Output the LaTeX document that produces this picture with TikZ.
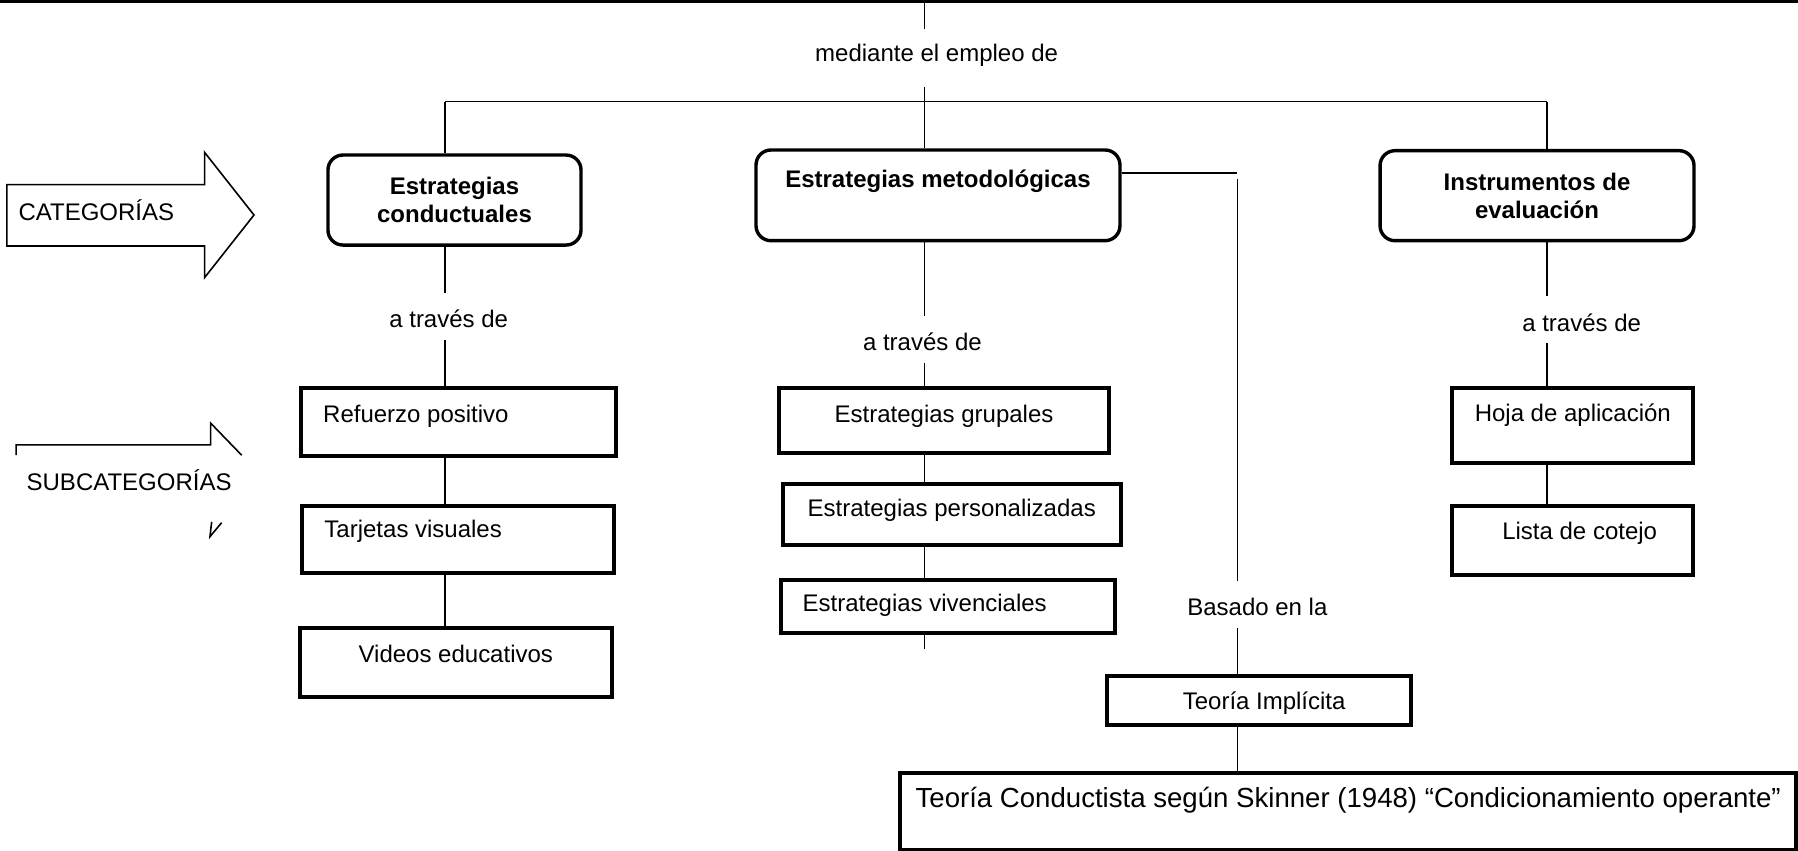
\documentclass[tikz,border=0pt]{standalone}
\usepackage{fontspec}
\setmainfont{Liberation Sans}
\begin{document}
\begin{tikzpicture}[x=0.5734pt,y=-0.5734pt,
  every node/.style={font=\fontsize{12}{14}\selectfont, inner sep=0pt},
  conn/.style={line width=0.7pt},
  outl/.style={line width=0.8pt},
  catbox/.style={draw, line width=1.7pt, rounded corners=7.5pt},
  subbox/.style={draw, line width=2pt},
  boxtxt/.style={font=\fontsize{12}{14}\selectfont, inner sep=0pt, align=center},
  boldtxt/.style={font=\fontsize{12}{14}\selectfont\bfseries, inner sep=0pt, align=center},
  bigtxt/.style={font=\fontsize{13.8}{16}\selectfont, inner sep=0pt},
  wd/.style={minimum width=#1*0.5734pt},
  ht/.style={minimum height=#1*0.5734pt}]
\useasboundingbox (0,0) rectangle (1568,742);

% top rule
\draw[line width=1.4pt] (0,1.2) -- (1568,1.2);

% category boxes
\node[catbox,wd=220.7,ht=78.5,label={[boldtxt]center:Estrategias\\conductuales}] (b1) at (396.35,174.45) {};
\node[catbox,wd=317.4,ht=79.1,label={[boldtxt,shift={(0,-12)}]center:Estrategias metodológicas}] (b2) at (818,170.35) {};
\node[catbox,wd=273.8,ht=78.5,label={[boldtxt,shift={(0,0.6)}]center:Instrumentos de\\evaluación}] (b3) at (1340.4,170.65) {};

% subcategory boxes
\node[subbox,wd=274.6,ht=59.3,label={[boxtxt,shift={(-37,-5.2)}]center:Refuerzo positivo}] (r1) at (399.7,368.05) {};
\node[subbox,wd=272.4,ht=58.7,label={[boxtxt,shift={(-39,-7)}]center:Tarjetas visuales}] (r2) at (399.3,470.65) {};
\node[subbox,wd=271.8,ht=60.2,label={[boxtxt,shift={(0,-7.2)}]center:Videos educativos}] (r3) at (397.5,577.5) {};

\node[subbox,wd=287.4,ht=56.4,label={[boxtxt,shift={(0,-3.8)}]center:Estrategias grupales}] (m1) at (823.3,366.6) {};
\node[subbox,wd=295.1,ht=53.3,label={[boxtxt,shift={(0,-3.3)}]center:Estrategias personalizadas}] (m2) at (830,448.65) {};
\node[subbox,wd=291.6,ht=46.2,label={[boxtxt,shift={(-20.2,-0.7)}]center:Estrategias vivenciales}] (m3) at (826.6,528.9) {};

\node[subbox,wd=210.2,ht=64.9,label={[boxtxt,shift={(0,-9)}]center:Hoja de aplicación}] (e1) at (1371.6,371) {};
\node[subbox,wd=210.2,ht=60.4,label={[boxtxt,shift={(6,-6.2)}]center:Lista de cotejo}] (e2) at (1371.6,471.2) {};

\node[subbox,wd=265.1,ht=42.8,label={[boxtxt,shift={(4.8,1.9)}]center:Teoría Implícita}] (t1) at (1097.65,610.9) {};
\node[subbox,wd=781.5,ht=67,label={[bigtxt,shift={(0,-9.5)}]center:Teoría Conductista según Skinner (1948) “Condicionamiento operante”}] (t2) at (1175.75,707.5) {};

% top connectors
\coordinate (tc) at (806,1.2);
\coordinate (t1e) at (806,25.6);
\node (med) at (816.8,48) {mediante el empleo de};
\coordinate (t2s) at (806,76);
\coordinate (hj) at (806,88.7);
\coordinate (hl) at (388,88.7);
\coordinate (hr) at (1349,88.7);
\draw[conn] (tc) -- (t1e);
\draw[conn] (t2s) -- (hj);
\draw[conn] (hl) -- (hr);
\draw[conn] (hl) -- (hl |- b1.north);
\draw[conn] (hj) -- (hj |- b2.north);
\draw[conn] (hr) -- (hr |- b3.north);

% column 1
\coordinate (c1a) at (388,255.8);
\node (at1) at (391.3,278.2) {a través de};
\coordinate (c1b) at (388,296.5);
\draw[conn] (c1a |- b1.south) -- (c1a);
\draw[conn] (c1b) -- (c1b |- r1.north);
\draw[conn] (c1b |- r1.south) -- (c1b |- r2.north);
\draw[conn] (c1b |- r2.south) -- (c1b |- r3.north);

% column 2
\coordinate (c2a) at (806,276);
\node (at2) at (804.4,298) {a través de};
\coordinate (c2b) at (806,316.6);
\coordinate (c2c) at (806,566);
\draw[conn] (c2a |- b2.south) -- (c2a);
\draw[conn] (c2b) -- (c2b |- m1.north);
\draw[conn] (c2b |- m1.south) -- (c2b |- m2.north);
\draw[conn] (c2b |- m2.south) -- (c2b |- m3.north);
\draw[conn] (c2c |- m3.south) -- (c2c);

% column 3
\coordinate (c3a) at (1349,258);
\node (at3) at (1379.3,281.4) {a través de};
\coordinate (c3b) at (1349,299.4);
\draw[conn] (c3a |- b3.south) -- (c3a);
\draw[conn] (c3b) -- (c3b |- e1.north);
\draw[conn] (c3b |- e1.south) -- (c3b |- e2.north);

% right branch
\coordinate (rb1) at (1078.5,151);
\draw[conn] (b2.east |- rb1) -- (rb1);
\coordinate (rv1) at (1079,156);
\coordinate (rv2) at (1079,507);
\draw[conn] (rv1) -- (rv2);
\node (bas) at (1096.5,529) {Basado en la};
\coordinate (rv3) at (1079,548);
\draw[conn] (rv3) -- (rv3 |- t1.north);
\draw[conn] (rv3 |- t1.south) -- (rv3 |- t2.north);

% CATEGORIAS block arrow
\draw[outl] (6,161) -- (178.5,161) -- (178.5,133) -- (221.5,187.5) -- (178.5,242) -- (178.5,214.5) -- (6,214.5) -- cycle;
\node (cat) at (84,183) {CATEGORÍAS};

% SUBCATEGORIAS arrow remnant
\draw[outl] (14,397) -- (14,388) -- (183.7,388) -- (183.7,369) -- (210.8,397);
\node (subc) at (112.6,418.6) {SUBCATEGORÍAS};
\draw[outl] (184.6,455) -- (183.1,468) -- (193.3,455.8);
\end{tikzpicture}
\end{document}
